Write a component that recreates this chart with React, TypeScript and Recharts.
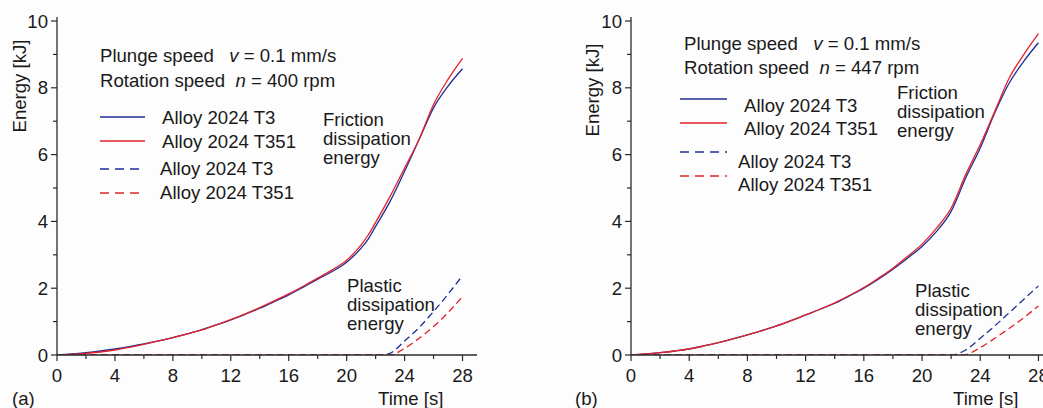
import { Line, LineChart, XAxis, YAxis } from "recharts";

const FONT = "'Liberation Sans', Arial, sans-serif";
const FS = 18.6;
const BLUE = "#1f2c96";
const RED = "#e2232a";
const AXIS = "#2a2a2a";
const TEXT = "#1a1a1a";

const xTicks = [0, 2, 4, 6, 8, 10, 12, 14, 16, 18, 20, 22, 24, 26, 28];
const yTicks = [0, 1, 2, 3, 4, 5, 6, 7, 8, 9, 10];

// (a) n = 400 rpm
const timeFrictionA = [0, 1, 2, 3, 4, 5, 6, 7, 8, 9, 10, 11, 12, 13, 14, 15, 16, 17, 18, 19, 20, 21, 21.5, 22, 23, 24, 25, 26, 27, 28];
const frictionT3A = [0, 0.03, 0.07, 0.12, 0.18, 0.25, 0.33, 0.42, 0.52, 0.63, 0.76, 0.9, 1.05, 1.22, 1.4, 1.6, 1.8, 2.03, 2.27, 2.5, 2.78, 3.2, 3.48, 3.85, 4.6, 5.5, 6.45, 7.4, 8.05, 8.57];
const frictionT351A = [0, 0.02, 0.05, 0.09, 0.15, 0.23, 0.32, 0.42, 0.52, 0.63, 0.75, 0.9, 1.06, 1.23, 1.42, 1.62, 1.83, 2.06, 2.3, 2.55, 2.84, 3.3, 3.6, 3.97, 4.75, 5.6, 6.45, 7.5, 8.25, 8.88];
const timePlasticT3A = [0, 22.5, 23, 24, 25, 26, 27, 28];
const plasticT3A = [0, 0, 0.05, 0.42, 0.82, 1.3, 1.82, 2.38];
const timePlasticT351A = [0, 23, 24, 25, 26, 27, 28];
const plasticT351A = [0, 0, 0.2, 0.5, 0.85, 1.27, 1.75];

// (b) n = 447 rpm
const timeFrictionB = [0, 1, 2, 3, 4, 5, 6, 7, 8, 9, 10, 11, 12, 13, 14, 15, 16, 17, 18, 19, 20, 21, 22, 23, 24, 25, 26, 27, 28];
const frictionT3B = [0, 0.03, 0.07, 0.12, 0.18, 0.27, 0.37, 0.48, 0.6, 0.73, 0.87, 1.03, 1.2, 1.37, 1.55, 1.77, 2.0, 2.27, 2.57, 2.9, 3.25, 3.7, 4.3, 5.3, 6.2, 7.25, 8.15, 8.8, 9.35];
const frictionT351B = [0, 0.03, 0.07, 0.12, 0.18, 0.27, 0.37, 0.48, 0.6, 0.73, 0.87, 1.03, 1.2, 1.37, 1.56, 1.78, 2.02, 2.3, 2.6, 2.95, 3.32, 3.8, 4.4, 5.4, 6.3, 7.3, 8.3, 9.0, 9.62];
const timePlasticT3B = [0, 22, 23, 24, 25, 26, 27, 28];
const plasticT3B = [0, 0, 0.15, 0.5, 0.87, 1.27, 1.67, 2.07];
const timePlasticT351B = [0, 22.8, 24, 25, 26, 27, 28];
const plasticT351B = [0, 0, 0.22, 0.5, 0.8, 1.12, 1.47];

const zip = (ts: number[], es: number[]) => ts.map((t, i) => ({ t, e: es[i] }));

function XTick(props: any) {
  const { x, y, payload } = props;
  const v = payload.value;
  const major = v % 4 === 0;
  return (
    <g>
      <line x1={x} x2={x} y1={y} y2={y + (major ? 6 : 4)} stroke={AXIS} strokeWidth={1.2} />
      {major && (
        <text x={x} y={y + 27} textAnchor="middle" fontSize={FS} fill={TEXT} fontFamily={FONT}>
          {v}
        </text>
      )}
    </g>
  );
}

function YTick(props: any) {
  const { x, y, payload } = props;
  const v = payload.value;
  const major = v % 2 === 0;
  return (
    <g>
      <line x1={x} x2={x - (major ? 6 : 4)} y1={y} y2={y} stroke={AXIS} strokeWidth={1.2} />
      {major && (
        <text x={x - 9} y={y} dy="0.35em" textAnchor="end" fontSize={FS} fill={TEXT} fontFamily={FONT}>
          {v}
        </text>
      )}
    </g>
  );
}

type Series = { key: string; data: { t: number; e: number }[]; color: string; dashed: boolean };

function Panel({ left, width, marginLeft, marginRight, series }: { left: number; width: number; marginLeft: number; marginRight: number; series: Series[] }) {
  // plot box: YAxis width 50 + marginLeft, XAxis height 30 + bottom margin 23
  return (
    <div style={{ position: "absolute", left, top: 0 }}>
      <LineChart width={width} height={408} margin={{ top: 17, right: marginRight, bottom: 23, left: marginLeft }}>
        <XAxis
          type="number"
          dataKey="t"
          domain={[0, 29]}
          ticks={xTicks}
          interval={0}
          tick={<XTick />}
          tickLine={false}
          tickSize={0}
          tickMargin={0}
          height={30}
          axisLine={{ stroke: AXIS, strokeWidth: 1.3 }}
          allowDataOverflow
        />
        <YAxis
          type="number"
          domain={[0, 10.12]}
          ticks={yTicks}
          interval={0}
          tick={<YTick />}
          tickLine={false}
          tickSize={0}
          tickMargin={0}
          width={50}
          axisLine={{ stroke: AXIS, strokeWidth: 1.3 }}
          allowDataOverflow
        />
        {series.map((s) => (
          <Line
            key={s.key}
            data={s.data}
            dataKey="e"
            type="monotone"
            stroke={s.color}
            strokeWidth={1.3}
            strokeDasharray={s.dashed ? "7 4" : undefined}
            dot={false}
            activeDot={false}
            isAnimationActive={false}
          />
        ))}
      </LineChart>
    </div>
  );
}

const seriesA: Series[] = [
  { key: "pT3", data: zip(timePlasticT3A, plasticT3A), color: BLUE, dashed: true },
  { key: "pT351", data: zip(timePlasticT351A, plasticT351A), color: RED, dashed: true },
  { key: "fT3", data: zip(timeFrictionA, frictionT3A), color: BLUE, dashed: false },
  { key: "fT351", data: zip(timeFrictionA, frictionT351A), color: RED, dashed: false },
];
const seriesB: Series[] = [
  { key: "pT3", data: zip(timePlasticT3B, plasticT3B), color: BLUE, dashed: true },
  { key: "pT351", data: zip(timePlasticT351B, plasticT351B), color: RED, dashed: true },
  { key: "fT3", data: zip(timeFrictionB, frictionT3B), color: BLUE, dashed: false },
  { key: "fT351", data: zip(timeFrictionB, frictionT351B), color: RED, dashed: false },
];

const legendNames = ["Alloy 2024 T3", "Alloy 2024 T351", "Alloy 2024 T3", "Alloy 2024 T351"];
const legendColors = [BLUE, RED, BLUE, RED];

function T({ x, y, children, anchor }: { x: number; y: number; children: any; anchor?: "start" | "middle" | "end" }) {
  return (
    <text
      x={x}
      y={y}
      dy="0.35em"
      fontSize={FS}
      fill={TEXT}
      fontFamily={FONT}
      textAnchor={anchor ?? "start"}
      style={{ whiteSpace: "pre" }}
    >
      {children}
    </text>
  );
}

type Notes = {
  speed: [number, number, number];
  rpm: string;
  legendX: [number, number];
  legendY: number[];
  legendTextX: number[];
  legendTextY: number[];
  friction: [number, number[]];
  plastic: [number, number[]];
  energy: [number, number];
  time: [number, number];
  tag: [number, number, string];
};

function Overlay({ n }: { n: Notes }) {
  return (
    <>
      <T x={n.speed[0]} y={n.speed[1]}>
        {"Plunge speed   "}
        <tspan fontStyle="italic">v</tspan>
        {" = 0.1 mm/s"}
      </T>
      <T x={n.speed[0]} y={n.speed[2]}>
        {"Rotation speed  "}
        <tspan fontStyle="italic">n</tspan>
        {` = ${n.rpm} rpm`}
      </T>
      {legendNames.map((name, i) => (
        <g key={i}>
          <line
            x1={n.legendX[0]}
            x2={n.legendX[1]}
            y1={n.legendY[i]}
            y2={n.legendY[i]}
            stroke={legendColors[i]}
            strokeWidth={1.4}
            strokeDasharray={i >= 2 ? "9 6" : undefined}
          />
          <T x={n.legendTextX[i]} y={n.legendTextY[i]}>
            {name}
          </T>
        </g>
      ))}
      {["Friction", "dissipation", "energy"].map((w, i) => (
        <T key={"f" + i} x={n.friction[0]} y={n.friction[1][i]}>
          {w}
        </T>
      ))}
      {["Plastic", "dissipation", "energy"].map((w, i) => (
        <T key={"p" + i} x={n.plastic[0]} y={n.plastic[1][i]}>
          {w}
        </T>
      ))}
      <text
        transform={`translate(${n.energy[0]},${n.energy[1]}) rotate(-90)`}
        dy="0.35em"
        textAnchor="middle"
        fontSize={FS}
        fill={TEXT}
        fontFamily={FONT}
      >
        Energy [kJ]
      </text>
      <T x={n.time[0]} y={n.time[1]}>
        Time [s]
      </T>
      <T x={n.tag[0]} y={n.tag[1]}>
        {n.tag[2]}
      </T>
    </>
  );
}

const notesA: Notes = {
  speed: [100, 55, 80],
  rpm: "400",
  legendX: [100, 145],
  legendY: [117, 141, 169, 193],
  legendTextX: [162, 162, 160, 160],
  legendTextY: [117, 141, 168, 192],
  friction: [323, [119, 138, 157]],
  plastic: [347, [285, 304, 323]],
  energy: [19, 86],
  time: [378, 398],
  tag: [12, 398, "(a)"],
};

const notesB: Notes = {
  speed: [684, 43, 67],
  rpm: "447",
  legendX: [680, 727],
  legendY: [99, 123, 152, 176],
  legendTextX: [744, 744, 738, 738],
  legendTextY: [105, 128, 161, 184],
  friction: [897, [92, 111, 130]],
  plastic: [915, [290, 309, 328]],
  energy: [592, 90],
  time: [953, 398],
  tag: [575, 398, "(b)"],
};

export default function App() {
  return (
    <div style={{ position: "fixed", left: 0, top: 0, width: 1043, height: 408, overflow: "hidden", background: "#fdfdfd" }}>
      <Panel left={0} width={520} marginLeft={7} marginRight={43} series={seriesA} />
      <Panel left={520} width={540} marginLeft={61} marginRight={7} series={seriesB} />
      <svg width={1043} height={408} style={{ position: "absolute", left: 0, top: 0, pointerEvents: "none" }}>
        <Overlay n={notesA} />
        <Overlay n={notesB} />
      </svg>
    </div>
  );
}
